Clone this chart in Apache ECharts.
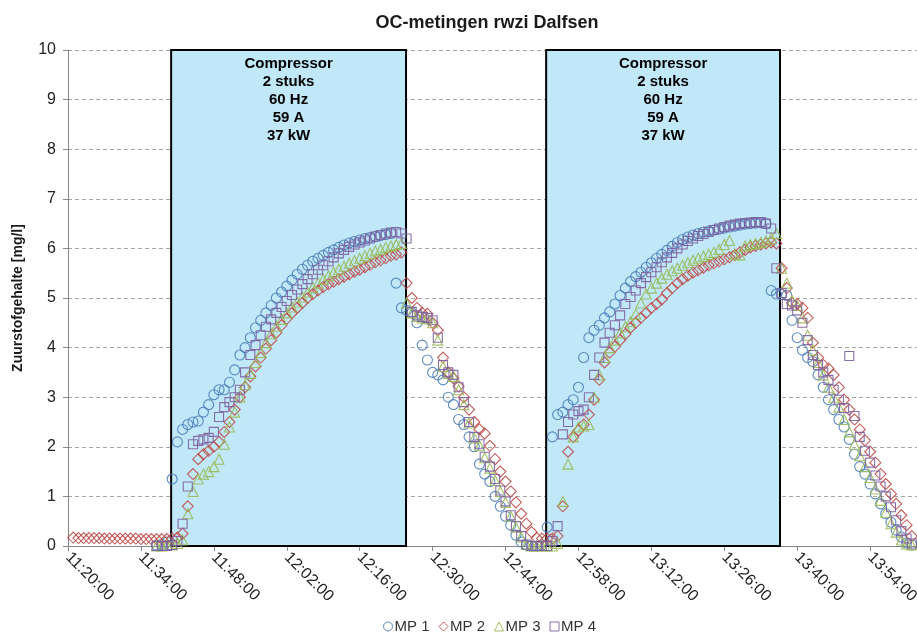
<!DOCTYPE html>
<html>
<head>
<meta charset="utf-8">
<script src="https://cdn.jsdelivr.net/npm/echarts@6.0.0/dist/echarts.min.js"></script>
<style>
  html, body { margin: 0; padding: 0; background: #fff; }
  #chart { width: 917px; height: 641px; }
</style>
</head>
<body>
<div id="chart"></div>
<script>
// one sample per minute, index 0 = 11:20:00
const startLabel = '11:20:00'
const tickLabels = ['11:20:00', '11:34:00', '11:48:00', '12:02:00', '12:16:00', '12:30:00',
  '12:44:00', '12:58:00', '13:12:00', '13:26:00', '13:40:00', '13:54:00']
const axisEnd = '14:03:00'

// compressor on / off (start, end)
const compressorRuns = [['11:39:48', '12:24:54'], ['12:51:48', '13:36:42']]
const compressorText = 'Compressor\n2 stuks\n60 Hz\n59 A\n37 kW'

const seriesNames = ['MP 1', 'MP 2', 'MP 3', 'MP 4']

const mp1 = [
  null, null, null, null, null, null, null, null, null, null,
  null, null, null, null, null, null, null, 0.02, 0.03, 0.08,
  1.35, 2.1, 2.35, 2.45, 2.5, 2.52, 2.7, 2.85, 3.05, 3.15,
  3.15, 3.3, 3.55, 3.85, 4.0, 4.2, 4.4, 4.55, 4.7, 4.85,
  5.0, 5.12, 5.24, 5.36, 5.48, 5.58, 5.66, 5.74, 5.8, 5.86,
  5.92, 5.97, 6.02, 6.07, 6.11, 6.14, 6.17, 6.2, 6.22, 6.24,
  6.26, 6.28, 6.3, 5.3, 4.8, 4.75, 4.7, 4.5, 4.05, 3.75,
  3.5, 3.45, 3.35, 3.0, 2.85, 2.55, 2.45, 2.2, 2.0, 1.65,
  1.45, 1.3, 1.0, 0.8, 0.6, 0.42, 0.22, 0.08, 0.02, 0.0,
  0.0, 0.02, 0.38, 2.2, 2.65, 2.7, 2.85, 2.95, 3.2, 3.8,
  4.2, 4.35, 4.45, 4.6, 4.72, 4.88, 5.05, 5.2, 5.33, 5.43,
  5.52, 5.62, 5.71, 5.8, 5.88, 5.96, 6.04, 6.12, 6.18, 6.23,
  6.27, 6.3, 6.33, 6.35, 6.37, 6.39, 6.41, 6.43, 6.45, 6.47,
  6.49, 6.5, 6.51, 6.52, 6.5, 5.15, 5.08, 5.07, 5.05, 4.55,
  4.2, 3.95, 3.8, 3.72, 3.45, 3.2, 2.95, 2.75, 2.55, 2.4,
  2.15, 1.85, 1.6, 1.45, 1.25, 1.05, 0.85, 0.65, 0.48, 0.32,
  0.18, 0.06, 0.02
]

const mp2 = [
  null, 0.17, 0.16, 0.16, 0.16, 0.16, 0.16, 0.15, 0.15, 0.15,
  0.15, 0.15, 0.15, 0.15, 0.14, 0.14, 0.14, 0.14, 0.14, 0.14,
  0.15, 0.17, 0.25, 0.8, 1.45, 1.75, 1.85, 1.92, 2.0, 2.1,
  2.3, 2.5, 2.75, 3.0, 3.2, 3.42, 3.62, 3.8, 3.98, 4.15,
  4.3, 4.45, 4.58, 4.7, 4.8, 4.9, 5.0, 5.08, 5.15, 5.22,
  5.28, 5.33, 5.38, 5.43, 5.48, 5.53, 5.57, 5.62, 5.67, 5.72,
  5.76, 5.8, 5.85, 5.88, 5.92, 5.3, 5.0, 4.8, 4.7, 4.68,
  4.5, 4.35, 3.8, 3.5, 3.38, 3.22, 3.0, 2.75, 2.5, 2.35,
  2.27, 2.02, 1.75, 1.5, 1.3, 1.1, 0.88, 0.65, 0.45, 0.28,
  0.16, 0.15, 0.15, 0.15, 0.2, 0.8, 1.9, 2.2, 2.33, 2.45,
  2.65, 2.95, 3.35, 3.7, 3.9, 4.02, 4.15, 4.27, 4.4, 4.5,
  4.6, 4.7, 4.8, 4.88, 4.97, 5.1, 5.2, 5.3, 5.38, 5.45,
  5.51, 5.56, 5.61, 5.66, 5.7, 5.74, 5.78, 5.82, 5.87, 5.92,
  5.97, 6.02, 6.05, 6.08, 6.1, 6.12, 6.1, 5.6, 5.2, 4.9,
  4.88, 4.8, 4.6, 4.1, 3.8, 3.65, 3.58, 3.45, 3.2, 2.95,
  2.75, 2.55, 2.35, 2.13, 1.9, 1.68, 1.45, 1.25, 1.05, 0.85,
  0.62, 0.42, 0.2
]

const mp3 = [
  null, null, null, null, null, null, null, null, null, null,
  null, null, null, null, null, null, null, 0.0, 0.0, 0.02,
  0.02, 0.05, 0.12, 0.65, 1.1, 1.35, 1.45, 1.5, 1.6, 1.75,
  2.05, 2.4, 2.7, 3.0, 3.25, 3.48, 3.7, 3.9, 4.1, 4.28,
  4.43, 4.57, 4.7, 4.82, 4.92, 5.02, 5.12, 5.21, 5.3, 5.38,
  5.45, 5.52, 5.58, 5.64, 5.7, 5.75, 5.8, 5.85, 5.9, 5.95,
  5.98, 6.02, 6.05, 6.08, 6.1, 4.9, 4.7, 4.63, 4.6, 4.58,
  4.5, 4.15, 3.62, 3.48, 3.42, 3.15, 2.85, 2.48, 2.18, 2.02,
  1.78, 1.57, 1.32, 1.1, 0.88, 0.6, 0.38, 0.18, 0.03, 0.0,
  0.0, 0.0, 0.0, 0.0, 0.05, 0.9, 1.65, 2.2, 2.4, 2.42,
  2.45, 3.0, 3.45, 3.8, 4.0, 4.15, 4.3, 4.42, 4.52, 4.68,
  4.9, 5.08, 5.2, 5.3, 5.4, 5.48, 5.55, 5.6, 5.66, 5.71,
  5.76, 5.8, 5.84, 5.88, 5.92, 5.98, 6.08, 6.16, 5.88, 5.87,
  6.05, 6.08, 6.1, 6.12, 6.15, 6.2, 6.3, 5.6, 5.3, 4.95,
  4.85, 4.6, 4.25, 3.95, 3.7, 3.45, 3.2, 3.0, 2.8, 2.55,
  2.3, 2.05, 1.82, 1.6, 1.38, 1.15, 0.92, 0.68, 0.45, 0.28,
  0.12, 0.04, 0.02
]

const mp4 = [
  null, null, null, null, null, null, null, null, null, null,
  null, null, null, null, null, null, null, 0.0, 0.0, 0.0,
  0.02, 0.1, 0.45, 1.2, 2.05, 2.12, 2.15, 2.18, 2.3, 2.6,
  2.8, 2.9, 3.0, 3.15, 3.5, 3.85, 4.05, 4.25, 4.42, 4.57,
  4.7, 4.82, 4.94, 5.06, 5.17, 5.28, 5.38, 5.48, 5.57, 5.66,
  5.74, 5.82, 5.9, 5.97, 6.03, 6.08, 6.12, 6.16, 6.2, 6.24,
  6.27, 6.3, 6.32, 6.33, 6.3, 6.2, 4.72, 4.65, 4.62, 4.6,
  4.55, 4.2, 3.65, 3.5, 3.45, 3.2, 2.9, 2.5, 2.2, 2.05,
  1.8, 1.6, 1.35, 1.12, 0.9, 0.62, 0.4, 0.2, 0.03, 0.0,
  0.0, 0.0, 0.0, 0.1, 0.4, 2.25, 2.5, 2.65, 2.72, 2.75,
  3.0, 3.45, 3.8, 4.1, 4.3, 4.45, 4.65, 4.88, 5.02, 5.15,
  5.3, 5.42, 5.52, 5.62, 5.72, 5.82, 5.91, 6.0, 6.08, 6.15,
  6.2, 6.25, 6.29, 6.33, 6.37, 6.4, 6.43, 6.46, 6.48, 6.5,
  6.51, 6.52, 6.53, 6.53, 6.5, 6.4, 5.6, 5.1, 4.88, 4.85,
  4.75, 4.5, 4.15, 3.85, 3.65, 3.5, 3.35, 3.15, 2.95, 2.78,
  3.83, 2.62, 2.2, 1.92, 1.68, 1.42, 1.2, 1.0, 0.78, 0.52,
  0.3, 0.15, 0.05
]

const colors = ['#4a7ebb', '#be4b48', '#98b954', '#7d60a0']
const symbols = ['circle', 'diamond', 'triangle', 'rect']
const symbolSizes = [10, 11, 10, 9]
const font = '"Liberation Sans", Arial, sans-serif'

// minutes after the start label
function toMinutes(label) {
  const p = label.split(':').map(Number)
  const s = startLabel.split(':').map(Number)
  return (p[0] * 60 + p[1] + (p[2] || 0) / 60) - (s[0] * 60 + s[1])
}

const tickValues = tickLabels.map(toMinutes)

const chart = echarts.init(document.getElementById('chart'), null, { renderer: 'canvas' })

const scatterSeries = [mp1, mp2, mp3, mp4].map((values, idx) => ({
  name: seriesNames[idx],
  type: 'scatter',
  z: 3,
  symbol: symbols[idx],
  symbolSize: symbolSizes[idx],
  itemStyle: {
    color: 'rgba(255,255,255,0)',
    borderColor: colors[idx],
    borderWidth: 1.1,
    opacity: 0.9
  },
  emphasis: { disabled: true },
  data: values.map((v, i) => v == null ? null : [i, v]).filter(d => d)
}))

const option = {
  animation: false,
  textStyle: { fontFamily: font },
  title: {
    text: 'OC-metingen rwzi Dalfsen',
    left: 482,
    top: 9,
    textAlign: 'center',
    textStyle: { fontSize: 18, fontWeight: 'bold', color: '#1a1a1a', fontFamily: font }
  },
  legend: {
    left: 378,
    bottom: 2,
    itemWidth: 9,
    itemHeight: 9,
    itemGap: 9,
    textStyle: { fontSize: 15, color: '#333', fontFamily: font, padding: [0, 0, 0, -3] },
    data: seriesNames.map((n, idx) => ({
      name: n,
      icon: symbols[idx],
      itemStyle: { color: 'rgba(255,255,255,0)', borderColor: colors[idx], borderWidth: 1 }
    }))
  },
  grid: {
    left: 68,
    right: 0,
    top: 50,
    bottom: 95,
    containLabel: false,
    outerBoundsMode: 'none'
  },
  xAxis: {
    type: 'value',
    min: 0,
    max: toMinutes(axisEnd),
    interval: 14,
    axisLine: { show: true, onZero: false, lineStyle: { color: '#868686', width: 1 } },
    axisTick: { show: true, length: 5, customValues: tickValues, lineStyle: { color: '#868686' } },
    splitLine: { show: false },
    axisLabel: {
      rotate: -45,
      margin: 9,
      fontSize: 16,
      color: '#222',
      fontFamily: font,
      customValues: tickValues,
      formatter: (v) => {
        const i = tickValues.indexOf(v)
        return i >= 0 ? tickLabels[i] : ''
      }
    }
  },
  yAxis: {
    type: 'value',
    min: 0,
    max: 10,
    interval: 1,
    name: 'Zuurstofgehalte [mg/l]',
    nameLocation: 'middle',
    nameRotate: 90,
    nameGap: 43,
    nameTextStyle: { fontSize: 14, fontWeight: 'bold', color: '#1a1a1a', fontFamily: font },
    axisLine: { show: true, lineStyle: { color: '#868686', width: 1 } },
    axisTick: { show: true, length: 5, lineStyle: { color: '#868686' } },
    splitLine: { show: true, lineStyle: { color: '#a6a6a6', type: [4, 3], width: 1 } },
    axisLabel: { fontSize: 16, color: '#222', margin: 12, fontFamily: font }
  },
  series: [
    {
      name: 'compressor',
      type: 'scatter',
      z: 1,
      silent: true,
      data: [],
      markArea: {
        silent: true,
        itemStyle: { color: '#c1e8f8', borderColor: '#000', borderWidth: 2 },
        label: {
          show: true,
          position: 'insideTop',
          distance: 6,
          formatter: compressorText,
          fontSize: 15,
          lineHeight: 18,
          fontWeight: 'bold',
          color: '#000',
          align: 'center',
          fontFamily: font
        },
        data: compressorRuns.map(r => [
          { xAxis: toMinutes(r[0]), yAxis: 0 },
          { xAxis: toMinutes(r[1]), yAxis: 10 }
        ])
      }
    },
    ...scatterSeries
  ]
}

chart.setOption(option)
window.addEventListener('resize', () => chart.resize())
</script>
</body>
</html>
